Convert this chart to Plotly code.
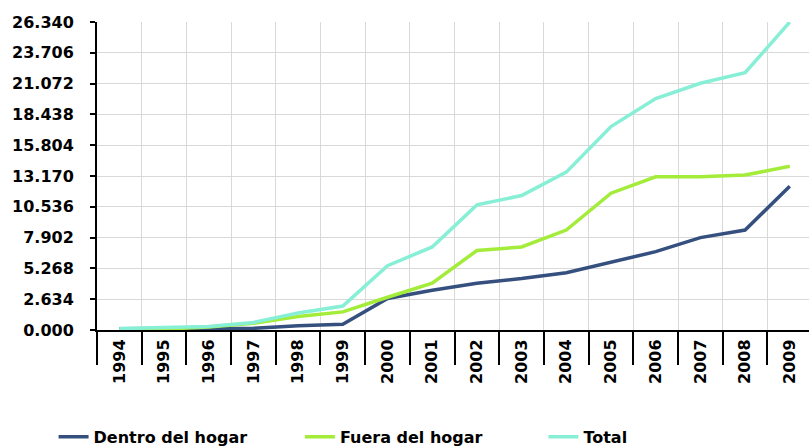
import plotly.graph_objects as go

# Años del eje horizontal
years = [str(y) for y in range(1994, 2010)]

# Series (miles)
dentro_hogar = [0.10, 0.12, 0.12, 0.14, 0.37, 0.50, 2.70, 3.40, 4.00, 4.40, 4.90, 5.80, 6.70, 7.90, 8.55, 12.30]
fuera_hogar = [0.05, 0.08, 0.25, 0.57, 1.15, 1.55, 2.80, 4.00, 6.80, 7.10, 8.55, 11.70, 13.10, 13.10, 13.25, 14.00]
total = [0.12, 0.18, 0.30, 0.65, 1.45, 2.05, 5.50, 7.10, 10.70, 11.50, 13.50, 17.40, 19.80, 21.10, 22.00, 26.34]

# Marcas del eje vertical
y_ticks = [0.000, 2.634, 5.268, 7.902, 10.536, 13.170, 15.804, 18.438, 21.072, 23.706, 26.340]
y_tick_labels = ["0.000", "2.634", "5.268", "7.902", "10.536", "13.170",
                 "15.804", "18.438", "21.072", "23.706", "26.340"]

FONT = "DejaVu Sans"
BOLD = dict(family=FONT, size=16, color="#000000", weight="bold")

series = [
    ("Dentro del hogar", dentro_hogar, "#35507f", "legend", -0.061),
    ("Fuera del hogar", fuera_hogar, "#a3ec3a", "legend2", 0.285),
    ("Total", total, "#86efd6", "legend3", 0.627),
]

fig = go.Figure()
for name, values, color, leg, _ in series:
    fig.add_trace(go.Scatter(
        x=years, y=values, name=name, mode="lines",
        line=dict(color=color, width=3.5),
        legend=leg,
    ))

legend_style = dict(
    orientation="h", yanchor="middle", y=-0.347, xanchor="left",
    font=BOLD, bgcolor="rgba(0,0,0,0)", borderwidth=0,
)
layout_legends = {}
for name, values, color, leg, lx in series:
    layout_legends[leg] = dict(legend_style, x=lx)

fig.update_layout(
    width=809, height=448,
    margin=dict(l=97, r=0, t=22, b=118, autoexpand=False),
    paper_bgcolor="#ffffff", plot_bgcolor="#ffffff",
    font=BOLD,
    showlegend=True,
    **layout_legends,
)

fig.update_xaxes(
    type="category", range=[-0.5, 15.43], automargin=False,
    tickson="boundaries", ticks="outside", ticklen=33, tickwidth=2, tickcolor="#000000",
    tickangle=-90, ticklabelstandoff=1,
    tickfont=BOLD,
    showline=True, linecolor="#000000", linewidth=2,
    showgrid=True, gridcolor="#d9d9d9", gridwidth=1,
    zeroline=False,
)
fig.update_yaxes(
    range=[0, 26.34], automargin=False,
    tickvals=y_ticks, ticktext=y_tick_labels,
    ticks="outside", ticklen=5, tickwidth=1.5, tickcolor="#000000",
    ticklabelstandoff=13,
    tickfont=BOLD,
    showline=True, linecolor="#000000", linewidth=2,
    showgrid=True, gridcolor="#d9d9d9", gridwidth=1,
    zeroline=False,
)

fig.write_html("out.html")
